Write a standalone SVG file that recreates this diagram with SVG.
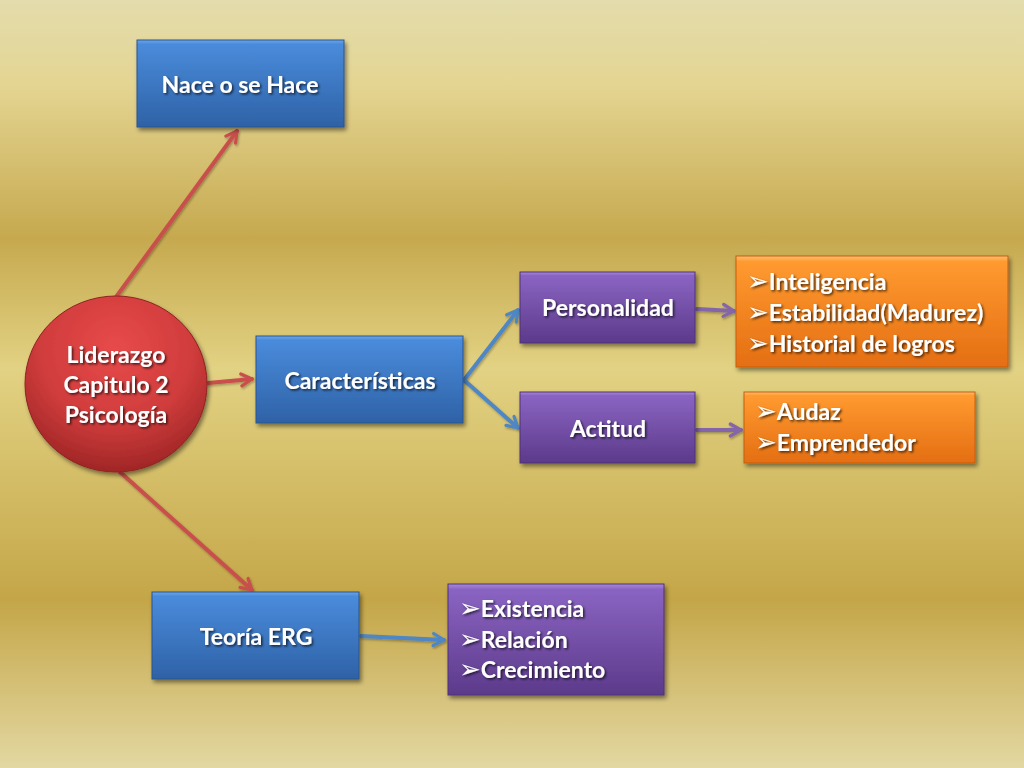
<svg xmlns="http://www.w3.org/2000/svg" width="1024" height="768" viewBox="0 0 1024 768">
<defs>
<linearGradient id="bg" x1="0" y1="0" x2="0" y2="1">
<stop offset="0" stop-color="#e3dcac"/>
<stop offset="0.11" stop-color="#e4d592"/>
<stop offset="0.31" stop-color="#c6a94f"/>
<stop offset="0.48" stop-color="#e2d283"/>
<stop offset="0.78" stop-color="#c4a648"/>
<stop offset="1" stop-color="#e3d8a2"/>
</linearGradient>
<linearGradient id="gBlue" x1="0" y1="0" x2="0" y2="1">
<stop offset="0" stop-color="#6aa6ec"/>
<stop offset="0.05" stop-color="#4a8bdb"/>
<stop offset="1" stop-color="#2e62a6"/>
</linearGradient>
<linearGradient id="gPurple" x1="0" y1="0" x2="0" y2="1">
<stop offset="0" stop-color="#a888dc"/>
<stop offset="0.05" stop-color="#8a64c2"/>
<stop offset="1" stop-color="#5c3a8a"/>
</linearGradient>
<linearGradient id="gOrange" x1="0" y1="0" x2="0" y2="1">
<stop offset="0" stop-color="#ffc070"/>
<stop offset="0.05" stop-color="#ff9a30"/>
<stop offset="1" stop-color="#e46e12"/>
</linearGradient>
<radialGradient id="gRed" cx="0.5" cy="0.3" r="0.7">
<stop offset="0" stop-color="#e84a4a"/>
<stop offset="0.6" stop-color="#d03c3c"/>
<stop offset="1" stop-color="#a02626"/>
</radialGradient>
<filter id="boxShadow" x="-10%" y="-10%" width="125%" height="130%">
<feDropShadow dx="2" dy="3" stdDeviation="2" flood-color="#000" flood-opacity="0.45"/>
</filter>
<filter id="txtShadow" x="-5%" y="-20%" width="115%" height="150%">
<feDropShadow dx="1.5" dy="1.5" stdDeviation="0.8" flood-color="#000" flood-opacity="0.7"/>
</filter>
<filter id="lineShadow" filterUnits="userSpaceOnUse" x="0" y="0" width="1024" height="768">
<feDropShadow dx="1" dy="1.5" stdDeviation="1" flood-color="#000" flood-opacity="0.3"/>
</filter>
<marker id="mRed" viewBox="0 0 12 12" refX="10" refY="6" markerWidth="16" markerHeight="16" markerUnits="userSpaceOnUse" orient="auto">
<path d="M2,1.5 L10,6 L2,10.5" fill="none" stroke="#c8504c" stroke-width="2.4" stroke-linecap="round" stroke-linejoin="round"/>
</marker>
<marker id="mBlue" viewBox="0 0 12 12" refX="10" refY="6" markerWidth="16" markerHeight="16" markerUnits="userSpaceOnUse" orient="auto">
<path d="M2,1.5 L10,6 L2,10.5" fill="none" stroke="#4f86c4" stroke-width="2.4" stroke-linecap="round" stroke-linejoin="round"/>
</marker>
<marker id="mPurple" viewBox="0 0 12 12" refX="10" refY="6" markerWidth="16" markerHeight="16" markerUnits="userSpaceOnUse" orient="auto">
<path d="M2,1.5 L10,6 L2,10.5" fill="none" stroke="#8466a8" stroke-width="2.4" stroke-linecap="round" stroke-linejoin="round"/>
</marker>
<style>
.t{font-family:Lato,"Open Sans","Liberation Sans",sans-serif;font-weight:bold;font-size:23px;fill:#ffffff;filter:url(#txtShadow);}
.c{text-anchor:middle;}
.b{font-family:"DejaVu Sans",sans-serif;font-weight:bold;font-size:26px;}
.box{filter:url(#boxShadow);stroke-width:1;}
.blue{fill:url(#gBlue);stroke:#2a5590;}
.purple{fill:url(#gPurple);stroke:#4e3278;}
.orange{fill:url(#gOrange);stroke:#c45e10;}
.ln{fill:none;stroke-width:4;stroke-linecap:round;filter:url(#lineShadow);}
.red{stroke:#c8504c;marker-end:url(#mRed);}
.bl{stroke:#4f86c4;marker-end:url(#mBlue);}
.pu{stroke:#8466a8;marker-end:url(#mPurple);}
</style>
</defs>
<rect x="0" y="0" width="1024" height="768" fill="url(#bg)"/>

<g id="connectors">
<line class="ln red" x1="116" y1="297" x2="237" y2="131"/>
<line class="ln red" x1="208" y1="383" x2="252" y2="379"/>
<line class="ln red" x1="120" y1="472" x2="252" y2="590"/>
<path class="ln bl" d="M464,380 L518,310"/>
<path class="ln bl" d="M464,380 L518,428"/>
<line class="ln pu" x1="697" y1="309" x2="734" y2="311"/>
<line class="ln pu" x1="697" y1="430" x2="741" y2="430"/>
<line class="ln bl" x1="361" y1="636" x2="444" y2="640"/>
</g>

<g id="node-nace">
<rect class="box blue" x="137" y="40" width="207" height="87"/>
<text class="t c" x="240" y="93">Nace o se Hace</text>
</g>

<g id="node-liderazgo">
<ellipse cx="116" cy="384" rx="91" ry="88" fill="url(#gRed)" stroke="#8e2222" stroke-width="1" filter="url(#boxShadow)"/>
<text class="t c" x="116" y="363">Liderazgo</text>
<text class="t c" x="116" y="393">Capitulo 2</text>
<text class="t c" x="116" y="423">Psicología</text>
</g>

<g id="node-caracteristicas">
<rect class="box blue" x="256" y="336" width="207" height="87"/>
<text class="t c" x="360" y="389">Características</text>
</g>

<g id="node-personalidad">
<rect class="box purple" x="520" y="272" width="175" height="71"/>
<text class="t c" x="608" y="316">Personalidad</text>
</g>

<g id="node-actitud">
<rect class="box purple" x="520" y="392" width="175" height="71"/>
<text class="t c" x="608" y="437">Actitud</text>
</g>

<g id="node-personalidad-list">
<rect class="box orange" x="736" y="256" width="272" height="111"/>
<text class="t" x="747" y="290"><tspan class="b">➢</tspan>Inteligencia</text>
<text class="t" x="747" y="321"><tspan class="b">➢</tspan>Estabilidad(Madurez)</text>
<text class="t" x="747" y="352"><tspan class="b">➢</tspan>Historial de logros</text>
</g>

<g id="node-actitud-list">
<rect class="box orange" x="744" y="392" width="231" height="71"/>
<text class="t" x="755" y="420"><tspan class="b">➢</tspan>Audaz</text>
<text class="t" x="755" y="451"><tspan class="b">➢</tspan>Emprendedor</text>
</g>

<g id="node-erg">
<rect class="box blue" x="152" y="592" width="207" height="87"/>
<text class="t c" x="256" y="645">Teoría ERG</text>
</g>

<g id="node-erg-list">
<rect class="box purple" x="448" y="584" width="216" height="111"/>
<text class="t" x="459" y="617"><tspan class="b">➢</tspan>Existencia</text>
<text class="t" x="459" y="648"><tspan class="b">➢</tspan>Relación</text>
<text class="t" x="459" y="678"><tspan class="b">➢</tspan>Crecimiento</text>
</g>
</svg>
